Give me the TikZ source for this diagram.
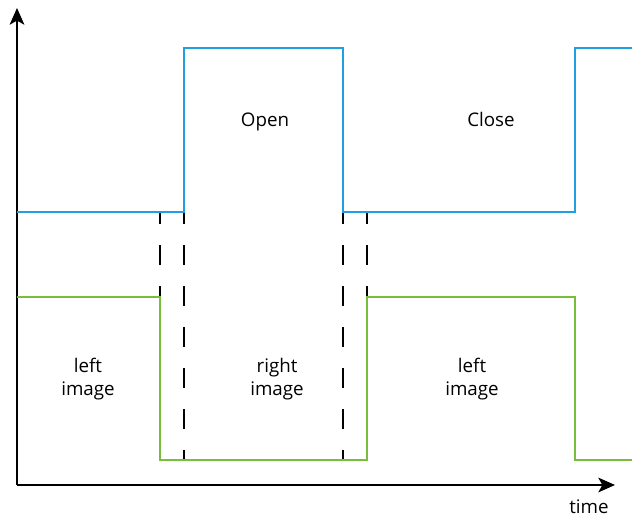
\documentclass[tikz,border=0pt]{standalone}
\usepackage{fontspec}
\setmainfont{Open Sans}
\usepackage{xcolor}
\usetikzlibrary{arrows.meta}
\definecolor{shutterblue}{RGB}{30,160,225}
\definecolor{framegreen}{RGB}{120,190,60}

\begin{document}
\begin{tikzpicture}[
    x=0.03cm, y=-0.03cm,
    txt/.style={align=center, anchor=base, font=\fontsize{16}{20}\selectfont},
    axis/.style={-{Stealth[length=0.5cm, width=0.44cm, inset=0.12cm]}, line width=1.4pt},
    shutter/.style={shutterblue, line width=1.6pt},
    frame/.style={framegreen, line width=1.6pt},
    sync/.style={line width=1.4pt, dash pattern=on 0.6cm off 0.63cm, dash phase=0.3cm}
]
    \useasboundingbox (0,0) rectangle (638,517);

    % Axes
    \coordinate (origin) at (17,485);
    \coordinate (ytip) at (17,8);
    \coordinate (xtip) at (615,485);
    \draw[axis] (origin) -- (ytip);
    \draw[axis] (origin) -- (xtip);
    \node[txt] (time) at (589,514) {time};

    % Switching marks
    \foreach \x in {160,184,343,367} {
        \coordinate (top\x) at (\x,212);
        \coordinate (bot\x) at (\x,460);
        \draw[sync] (bot\x) -- (top\x);
    }

    % Shutter and frame signals
    \draw[shutter] (17,212) -- (184,212) -- (184,48) -- (343,48) -- (343,212)
        -- (575,212) -- (575,48) -- (632,48);
    \draw[frame] (17,297) -- (160,297) -- (160,460) -- (367,460) -- (367,297)
        -- (575,297) -- (575,460) -- (632,460);

    % Labels
    \node[txt] (open) at (265,127) {Open};
    \node[txt] (close) at (491,127) {Close};
    \node[txt] (leftA) at (88,396) {left\\image};
    \node[txt] (right) at (277,396) {right\\image};
    \node[txt] (leftB) at (472,396) {left\\image};
\end{tikzpicture}
\end{document}
